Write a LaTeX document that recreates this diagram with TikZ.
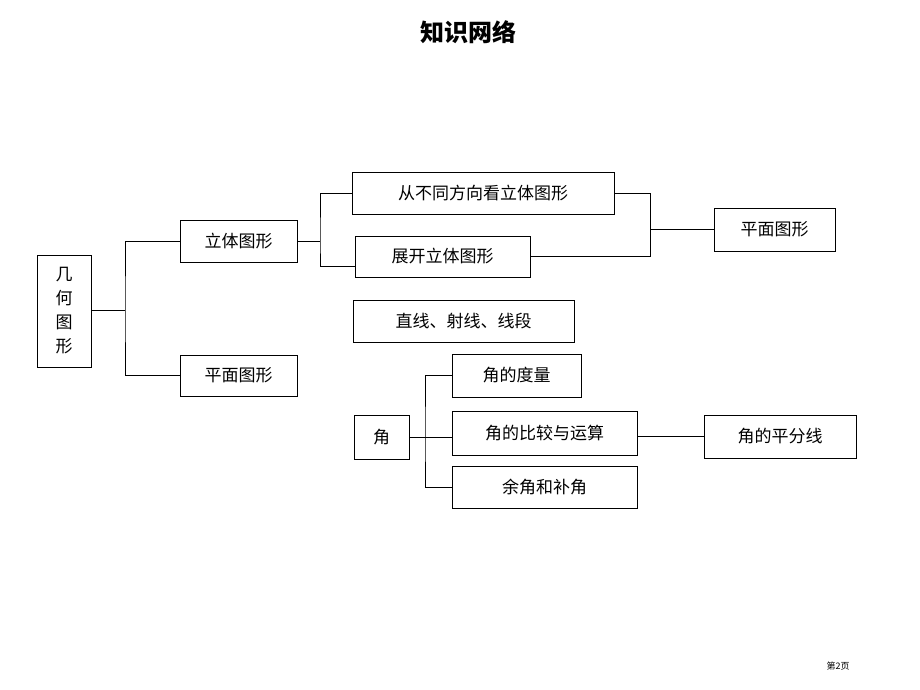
\documentclass[tikz,border=0pt]{standalone}
\usetikzlibrary{calc}
\usepackage{fontspec}
\setmainfont{Noto Sans CJK SC}
\begin{document}
\begin{tikzpicture}[x=1pt,y=-1pt,
 bx/.style={draw=black,line width=0.9pt,inner sep=0pt,font=\fontsize{17}{20}\selectfont},
 ln/.style={line width=0.9pt}]
\useasboundingbox (0,0) rectangle (920,690);
\node (title) at (468,32) {\fontsize{24}{28}\selectfont\bfseries 知识网络};
\node (foot) at (838,666) {\fontsize{9}{10}\selectfont 第2页};
\node[bx,minimum width=54pt,minimum height=112pt,align=center,font=\fontsize{17}{24}\selectfont] (jh) at (64,311) {几\\何\\图\\形};
\node[bx,minimum width=117pt,minimum height=42pt] (lt) at (238.5,241) {立体图形};
\node[bx,minimum width=117pt,minimum height=41pt] (pm) at (238.5,375.5) {平面图形};
\node[bx,minimum width=262pt,minimum height=42pt] (cb) at (483,193) {从不同方向看立体图形};
\node[bx,minimum width=175pt,minimum height=41pt] (zk) at (442.5,256.5) {展开立体图形};
\node[bx,minimum width=121pt,minimum height=43pt] (pm2) at (774.5,229.5) {平面图形};
\node[bx,minimum width=221pt,minimum height=42pt] (zx) at (463.5,321) {直线、射线、线段};
\node[bx,minimum width=55pt,minimum height=44pt] (j) at (381.5,437) {角};
\node[bx,minimum width=129pt,minimum height=43pt] (dl) at (516.5,375.5) {角的度量};
\node[bx,minimum width=185pt,minimum height=44pt] (bj) at (544.5,433) {角的比较与运算};
\node[bx,minimum width=185pt,minimum height=42pt] (yj) at (544.5,487) {余角和补角};
\node[bx,minimum width=152pt,minimum height=43pt] (pf) at (780,436.5) {角的平分线};
\coordinate (a) at (125,310);
\draw[ln] (jh.east|-a) -- (a);
\draw[ln] (lt.west) -| (a) |- (pm.west);
\coordinate (b) at (320,241);
\draw[ln] (lt.east) -- (b);
\draw[ln] (cb.west) -| (b) |- ($(zk.west)+(0,10)$) ;
\coordinate (c) at (650,229.5);
\draw[ln] (cb.east) -| (c) -- (pm2.west);
\draw[ln] (zk.east) -| (c);
\coordinate (d) at (425,437);
\draw[ln] (j.east) -- (d);
\draw[ln] (dl.west) -| (d) |- (yj.west);
\draw[ln] (d) -- (d-|bj.west);
\draw[ln] (bj.east|-pf) -- (pf.west);
\end{tikzpicture}
\end{document}
